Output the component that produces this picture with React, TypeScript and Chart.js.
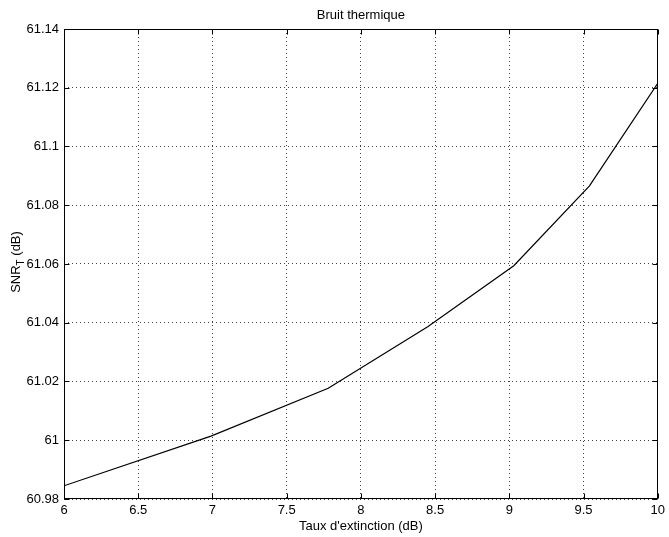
import React, { useEffect, useRef } from "react";
import { Chart, registerables } from "chart.js";

Chart.register(...registerables);

const chartTitle = "Bruit thermique";
const xTitle = "Taux d'extinction (dB)";
const yTitleMain = "SNR";
const yTitleSub = "T";
const yTitleRest = " (dB)";

const extinctionDb = [6, 6.99, 7.78, 8.45, 9.03, 9.54, 10];
const snrDb = [60.9845, 61.0014, 61.0177, 61.0386, 61.0594, 61.0866, 61.1215];

const xTicks = [6, 6.5, 7, 7.5, 8, 8.5, 9, 9.5, 10];
const yTicks = [60.98, 61, 61.02, 61.04, 61.06, 61.08, 61.1, 61.12, 61.14];

const FONT = "'Liberation Sans', Arial, Helvetica, sans-serif";
const FONT_SIZE = 13;

const fmt = (v: number) => String(Number(v.toFixed(2)));

const framePlugin = {
  id: "matlabFrame",
  afterDraw(chart: any) {
    const ctx = chart.ctx;
    const a = chart.chartArea;
    const xs = chart.scales.x;
    const ys = chart.scales.y;
    ctx.save();
    ctx.strokeStyle = "#000";
    ctx.lineWidth = 1;
    ctx.setLineDash([]);
    const L = Math.round(a.left) + 0.5;
    const R = Math.round(a.right) - 0.5;
    const T = Math.round(a.top) + 0.5;
    const B = Math.round(a.bottom) - 0.5;
    ctx.strokeRect(L, T, R - L, B - T);
    const tl = 5;
    ctx.beginPath();
    for (const v of xTicks) {
      const px = Math.round(xs.getPixelForValue(v)) + 0.5;
      ctx.moveTo(px, B);
      ctx.lineTo(px, B - tl);
      ctx.moveTo(px, T);
      ctx.lineTo(px, T + tl);
    }
    for (const v of yTicks) {
      const py = Math.round(ys.getPixelForValue(v)) + 0.5;
      ctx.moveTo(L, py);
      ctx.lineTo(L + tl, py);
      ctx.moveTo(R, py);
      ctx.lineTo(R - tl, py);
    }
    ctx.stroke();

    // titles
    ctx.fillStyle = "#000";
    ctx.font = `${FONT_SIZE}px ${FONT}`;
    ctx.textAlign = "center";
    ctx.textBaseline = "alphabetic";
    const cx = (a.left + a.right) / 2;
    ctx.fillText(chartTitle, cx, a.top - 10);
    ctx.fillText(xTitle, cx, a.bottom + 31);

    // y title with subscript
    const cy = (a.top + a.bottom) / 2 - 2;
    const subFont = `${Math.round(FONT_SIZE * 0.75)}px ${FONT}`;
    const mainFont = `${FONT_SIZE}px ${FONT}`;
    ctx.font = mainFont;
    const w1 = ctx.measureText(yTitleMain).width;
    const w3 = ctx.measureText(yTitleRest).width;
    ctx.font = subFont;
    const w2 = ctx.measureText(yTitleSub).width;
    const total = w1 + w2 + w3;
    ctx.translate(19.5, cy);
    ctx.rotate(-Math.PI / 2);
    ctx.textAlign = "left";
    let x0 = -total / 2;
    ctx.font = mainFont;
    ctx.fillText(yTitleMain, x0, 0);
    x0 += w1;
    ctx.font = subFont;
    ctx.fillText(yTitleSub, x0, 4.5);
    x0 += w2;
    ctx.font = mainFont;
    ctx.fillText(yTitleRest, x0, 0);
    ctx.restore();
  },
};

export default function App() {
  const ref = useRef<HTMLCanvasElement | null>(null);
  useEffect(() => {
    if (!ref.current) return;
    const chart = new Chart(ref.current, {
      type: "line",
      data: {
        datasets: [
          {
            data: extinctionDb.map((x, i) => ({ x, y: snrDb[i] })),
            borderColor: "#000",
            borderWidth: 1.2,
            pointRadius: 0,
            tension: 0,
            fill: false,
          },
        ],
      },
      options: {
        responsive: false,
        animation: false,
        devicePixelRatio: 1,
        layout: { padding: { top: 29, right: 9, left: 0, bottom: 0 } },
        plugins: {
          legend: { display: false },
          title: { display: false },
          tooltip: { enabled: false },
        },
        scales: {
          x: {
            type: "linear",
            min: 6,
            max: 10,
            afterBuildTicks: (s: any) => {
              s.ticks = xTicks.map((v) => ({ value: v }));
            },
            afterFit: (s: any) => {
              s.height = 38;
            },
            ticks: {
              callback: (v: any) => fmt(Number(v)),
              color: "#000",
              font: { family: FONT, size: FONT_SIZE },
              padding: 4,
              maxRotation: 0,
              autoSkip: false,
            },
            grid: {
              drawTicks: false,
              color: "rgba(0,0,0,0.75)",
              lineWidth: 1,
            },
            border: { display: false, dash: [1, 3] },
          },
          y: {
            type: "linear",
            min: 60.98,
            max: 61.14,
            afterBuildTicks: (s: any) => {
              s.ticks = yTicks.map((v) => ({ value: v }));
            },
            afterFit: (s: any) => {
              s.width = 64;
            },
            ticks: {
              callback: (v: any) => fmt(Number(v)),
              color: "#000",
              font: { family: FONT, size: FONT_SIZE },
              padding: 5,
              autoSkip: false,
            },
            grid: {
              drawTicks: false,
              color: "rgba(0,0,0,0.75)",
              lineWidth: 1,
            },
            border: { display: false, dash: [1, 3] },
          },
        },
      },
      plugins: [framePlugin],
    } as any);
    return () => chart.destroy();
  }, []);
  return (
    <div style={{ position: "absolute", left: 0, top: 0, width: 669, height: 537, background: "#fff" }}>
      <canvas ref={ref} width={669} height={537} />
    </div>
  );
}
